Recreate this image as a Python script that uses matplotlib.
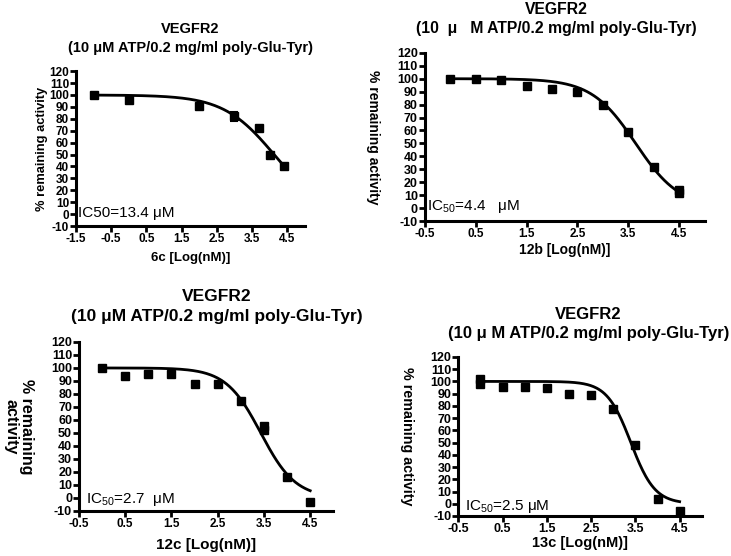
import numpy as np
import matplotlib
matplotlib.use("Agg")
import matplotlib.pyplot as plt

plt.rcParams['font.family'] = ['Liberation Sans', 'DejaVu Sans']
plt.rcParams['mathtext.fontset'] = 'custom'
plt.rcParams['mathtext.rm'] = 'Liberation Sans'
plt.rcParams['mathtext.it'] = 'Liberation Sans'
plt.rcParams['axes.unicode_minus'] = False

# ---- data ----
x_6c = [-1, 0, 2, 3, 3.7, 4, 4.4]
y_6c = [100, 96, 91, 82, 72, 50, 40]
err_6c = [0, 0, 0, 4, 0, 0, 0]

x_12b = [0, 0.5, 1, 1.5, 2, 2.5, 3, 3.5, 4, 4.5, 4.5]
y_12b = [100, 99.5, 99, 94.5, 92, 90, 79.5, 58.5, 32, 14, 12]

x_12c = [0, 0.5, 1, 1.5, 2, 2.5, 3, 3.5, 3.5, 4, 4.5]
y_12c = [100, 94, 95.5, 95.5, 88, 87.5, 74.5, 55, 52, 16, -3]

x_13c = [0, 0, 0.5, 1, 1.5, 2, 2.5, 3, 3.5, 4, 4.5]
y_13c = [102, 98, 95.5, 95.5, 95, 89.5, 88.5, 77.5, 48, 4, -6]

# fitted curve parameters (logIC50 in log nM, hill slope)
fit_6c = (np.log10(13400), 0.6)
fit_12b = (np.log10(4400), 1.0)
fit_12c = (np.log10(2700), 1.15)
fit_13c = (np.log10(2500), 1.6)

ic_6c = "IC50=13.4 μM"
ic_12b = "IC$_{50}$=4.4   μM"
ic_12c = "IC$_{50}$=2.7  μM"
ic_13c = "IC$_{50}$=2.5 μM"

yticks = np.arange(-10, 121, 10)


def curve(lo, hi, p):
    xx = np.linspace(lo, hi, 200)
    return xx, 100 / (1 + 10 ** ((xx - p[0]) * p[1]))


def panel(rect, xs, ys, p, xlim, xt, xlabel, title, ic, icpos, ylab, ylabpos, rot,
          yfs, xfs, lfs, yl_fs, tfs, lpad, err=None, crange=None):
    ax = fig.add_axes(rect)
    xx, yy = curve(crange[0], crange[1], p)
    ax.plot(xx, yy, 'k-', lw=2)
    if err is not None:
        ax.errorbar(xs, ys, yerr=err, fmt='none', ecolor='k', elinewidth=1.5, capsize=3, capthick=1.5)
    ax.plot(xs, ys, 'ks', ms=6)
    ax.set_xlim(xlim)
    ax.set_ylim(-10, 120)
    ax.set_xticks(xt)
    ax.set_xticklabels([str(v) for v in xt])
    ax.set_yticks(yticks)
    ax.spines['top'].set_visible(False)
    ax.spines['right'].set_visible(False)
    ax.spines['left'].set_linewidth(2.2)
    ax.spines['bottom'].set_linewidth(2.2)
    ax.tick_params(width=2, length=4, pad=1)
    ax.tick_params(axis='y', labelsize=yfs)
    ax.tick_params(axis='x', labelsize=xfs)
    for t in ax.get_xticklabels() + ax.get_yticklabels():
        t.set_fontweight('bold')
    ax.set_xlabel(xlabel, fontsize=lfs, fontweight='bold', labelpad=lpad)
    # title block (x centre, line-1 offset, line-2 offset)
    ax.text(title[4], 1.0 + title[2], title[0], transform=ax.transAxes, ha='center', va='center',
            fontsize=tfs, fontweight='bold')
    ax.text(title[4], 1.0 + title[3], title[1], transform=ax.transAxes, ha='center', va='center',
            fontsize=tfs, fontweight='bold')
    ax.text(icpos[0], icpos[1], ic, fontsize=11, ha='left', va='center')
    ax.text(ylabpos, 0.5, ylab, transform=ax.transAxes, rotation=rot, ha='center', va='center',
            fontsize=yl_fs, fontweight='bold', linespacing=1.0)
    return ax


fig = plt.figure(figsize=(7.31, 5.56), dpi=100)

panel([0.104, 0.5935, 0.313, 0.2785], x_6c, y_6c, fit_6c, (-1.5, 5.0),
      [-1.5, -0.5, 0.5, 1.5, 2.5, 3.5, 4.5], "6c [Log(nM)]",
      ("VEGFR2", "(10 μM ATP/0.2 mg/ml poly-Glu-Tyr)", 0.27, 0.15, 0.5), ic_6c, (-1.43, 1),
      "% remaining activity", -0.15, 90, 8.5, 8.5, 9.5, 9.3, 10.5, 5, err=err_6c, crange=(-1, 4.4))

panel([0.581, 0.6025, 0.383, 0.3025], x_12b, y_12b, fit_12b, (-0.5, 5.0),
      [-0.5, 0.5, 1.5, 2.5, 3.5, 4.5], "12b [Log(nM)]",
      ("VEGFR2", "(10  μ   M ATP/0.2 mg/ml poly-Glu-Tyr)", 0.26, 0.145, 0.47), ic_12b, (-0.45, 1),
      "% remaining activity", -0.186, 270, 9, 8.5, 10, 10, 11.3, 2, crange=(0, 4.5))

panel([0.108, 0.081, 0.348, 0.304], x_12c, y_12c, fit_12c, (-0.5, 5.0),
      [-0.5, 0.5, 1.5, 2.5, 3.5, 4.5], "12c [Log(nM)]",
      ("VEGFR2", "(10 μM ATP/0.2 mg/ml poly-Glu-Tyr)", 0.27, 0.15, 0.54), ic_12c, (-0.35, -1.5),
      "% remaining\nactivity", -0.236, 270, 9, 8.5, 11, 11.5, 12.5, 6, crange=(0, 4.5))

panel([0.627, 0.072, 0.333, 0.286], x_13c, y_13c, fit_13c, (-0.5, 5.0),
      [-0.5, 0.5, 1.5, 2.5, 3.5, 4.5], "13c [Log(nM)]",
      ("VEGFR2", "(10 μ M ATP/0.2 mg/ml poly-Glu-Tyr)", 0.27, 0.145, 0.535), ic_13c, (-0.35, -2),
      "% remaining activity", -0.209, 270, 9, 9, 10.5, 10.3, 12, 1, crange=(0, 4.5))

fig.savefig("out.png", dpi=100)
